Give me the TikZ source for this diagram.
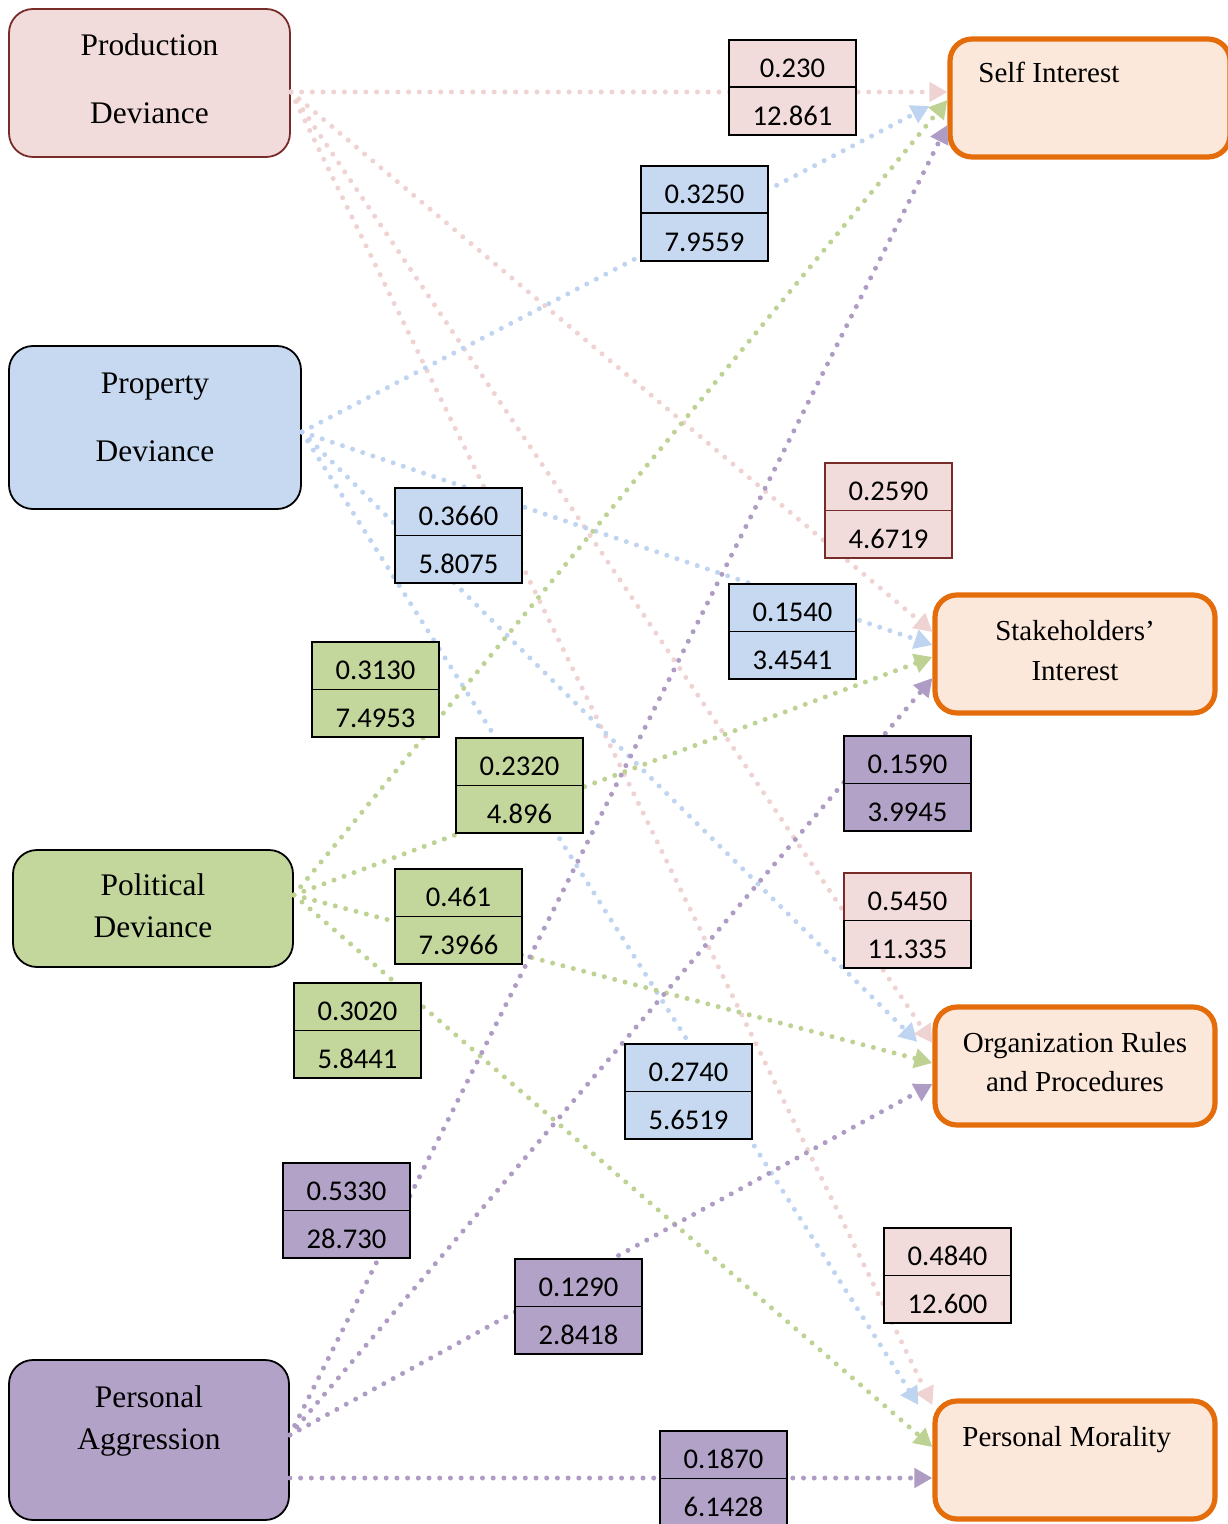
\documentclass[tikz,border=0pt]{standalone}
\usepackage{fontspec}
\setmainfont{Liberation Serif}
\newfontfamily\labfont{Carlito}
\usetikzlibrary{arrows.meta}

\definecolor{pinkF}{HTML}{F2DCDB}
\definecolor{pinkL}{HTML}{EFD2D2}
\definecolor{blueF}{HTML}{C6D9F1}
\definecolor{blueL}{HTML}{BED4F0}
\definecolor{greenF}{HTML}{C3D69B}
\definecolor{greenL}{HTML}{BDD293}
\definecolor{purpF}{HTML}{B3A2C7}
\definecolor{purpL}{HTML}{AE9CC4}
\definecolor{orangeB}{HTML}{E46C0A}
\definecolor{peach}{HTML}{FCE8DA}
\definecolor{darkred}{HTML}{772C2A}

\newcommand\mklabel[8]{%
  \node[labcell, fill=#6, draw=#7] (#1a) at (#2,#3) {#4};
  \node[labcell, fill=#6, draw=#8] (#1b) at (#2,#3+47.5) {#5};
}

\begin{document}
\begin{tikzpicture}[x=0.5pt,y=-0.5pt,
  src/.style={draw=black, line width=0.9pt, rounded corners=12pt, inner sep=0pt,
    font=\fontsize{15.7}{34}\selectfont, align=center},
  dst/.style={draw=orangeB, fill=peach, line width=2.6pt, rounded corners=11pt,
    minimum width=140pt, minimum height=59pt, inner sep=0pt, align=center,
    font=\fontsize{14.5}{20}\selectfont},
  dsttext/.style={font=\fontsize{14.5}{20}\selectfont, inner sep=0pt},
  rel/.style={line width=2.5pt, dash pattern=on 0pt off 5.35pt, line cap=round,
    -{Triangle[length=9pt,width=9.5pt]}},
  labcell/.style={line width=0.9pt, minimum width=63.5pt, minimum height=23.75pt,
    inner sep=0pt, anchor=north west, text height=14pt, text depth=0pt,
    font=\labfont\fontsize{14.3}{16}\selectfont}
]
\useasboundingbox (0,0) rectangle (1227,1524);

% source boxes
\node[src, fill=pinkF, draw=darkred, minimum width=140.5pt, minimum height=74pt, text depth=4pt] (prod) at (149.5,83) {Production\\Deviance};
\node[src, fill=blueF, minimum width=146pt, minimum height=81.5pt, text depth=10pt] (prop) at (155,427.5) {Property\\Deviance};
\node[src, fill=greenF, font=\fontsize{15.7}{21}\selectfont, minimum width=140pt, minimum height=58.5pt, text depth=3pt] (pol) at (153,908.5) {Political\\Deviance};
\node[src, fill=purpF, font=\fontsize{15.7}{21}\selectfont, minimum width=140pt, minimum height=80pt, text depth=22pt] (pers) at (149,1440) {Personal\\Aggression};

% target boxes
\node[dst] (self) at (1090,98) {};
\node[dsttext, anchor=base west] (selft) at (978,83) {Self Interest};
\node[dst, text depth=4pt] (stake) at (1075,654) {Stakeholders’\\Interest};
\node[dst, font=\fontsize{14.5}{19.5}\selectfont, text depth=4pt] (org) at (1075,1066) {Organization Rules\\and Procedures};
\node[dst] (moral) at (1075,1460) {};
\node[dsttext, anchor=base west] (moralt) at (962,1446) {Personal Morality};

% Production Deviance
\draw[rel, pinkL] ([yshift=-4.5pt]prod.east) -- ([yshift=3pt]self.west);
\draw[rel, pinkL] ([yshift=-4.5pt]prod.east) -- ([yshift=11pt]stake.west);
\draw[rel, pinkL] ([yshift=-4.5pt]prod.east) -- ([yshift=11.5pt]org.west);
\draw[rel, pinkL] ([yshift=-4.5pt]prod.east) -- ([yshift=27.5pt]moral.west);

% Property Deviance
\draw[rel, blueL] ([yshift=-2.25pt]prop.east) -- ([xshift=-9pt,yshift=-4pt]self.west);
\draw[rel, blueL] ([yshift=-2.25pt]prop.east) -- ([yshift=4.5pt]stake.west);
\draw[rel, blueL] ([yshift=-2.25pt]prop.east) -- ([xshift=-7.5pt,yshift=12pt]org.west);
\draw[rel, blueL] ([yshift=-2.25pt]prop.east) -- ([xshift=-7pt,yshift=27.5pt]moral.west);

% Political Deviance
\draw[rel, greenL] ([yshift=6.75pt]pol.east) -- ([yshift=-1pt]self.west);
\draw[rel, greenL] ([yshift=6.75pt]pol.east) -- ([yshift=-1.5pt]stake.west);
\draw[rel, greenL] ([yshift=6.75pt]pol.east) -- ([yshift=1.5pt]org.west);
\draw[rel, greenL] ([yshift=6.75pt]pol.east) -- ([yshift=6.5pt]moral.west);

% Personal Aggression
\draw[rel, purpL] ([yshift=2.5pt]pers.east) -- ([yshift=-13.5pt]self.west);
\draw[rel, purpL] ([yshift=2.5pt]pers.east) -- ([yshift=-12pt]stake.west);
\draw[rel, purpL] ([yshift=2.5pt]pers.east) -- ([yshift=-9pt]org.west);
\draw[rel, purpL] ([yshift=-19pt]pers.east) -- ([yshift=-9pt]moral.west);

% labels
\mklabel{la}{728}{39}{0.230}{12.861}{pinkF}{black}{black}
\mklabel{lb}{640}{165}{0.3250}{7.9559}{blueF}{black}{black}
\mklabel{lc}{394}{487}{0.3660}{5.8075}{blueF}{black}{black}
\mklabel{ld}{824}{462}{0.2590}{4.6719}{pinkF}{darkred}{darkred}
\mklabel{le}{728}{583}{0.1540}{3.4541}{blueF}{black}{black}
\mklabel{lf}{311}{641}{0.3130}{7.4953}{greenF}{black}{black}
\mklabel{lg}{455}{737}{0.2320}{4.896}{greenF}{black}{black}
\mklabel{lh}{843}{735}{0.1590}{3.9945}{purpF}{black}{black}
\mklabel{li}{394}{868}{0.461}{7.3966}{greenF}{black}{black}
\mklabel{lj}{843}{872}{0.5450}{11.335}{pinkF}{darkred}{black}
\mklabel{lk}{293}{982}{0.3020}{5.8441}{greenF}{black}{black}
\mklabel{ll}{624}{1043}{0.2740}{5.6519}{blueF}{black}{black}
\mklabel{lm}{282}{1162}{0.5330}{28.730}{purpF}{black}{black}
\mklabel{ln}{883}{1227}{0.4840}{12.600}{pinkF}{black}{black}
\mklabel{lo}{514}{1258}{0.1290}{2.8418}{purpF}{black}{black}
\mklabel{lp}{659}{1430}{0.1870}{6.1428}{purpF}{black}{black}
\end{tikzpicture}
\end{document}
